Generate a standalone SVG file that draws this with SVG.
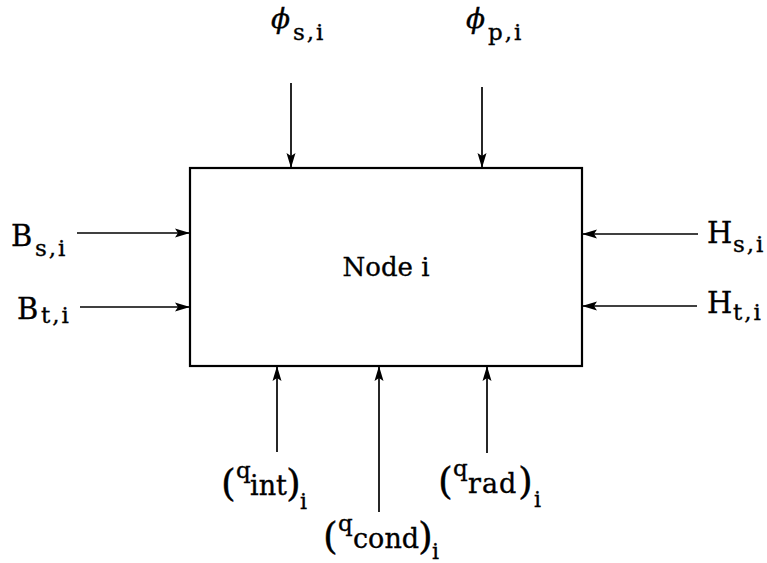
<svg xmlns="http://www.w3.org/2000/svg" width="767" height="563" viewBox="0 0 767 563">
<style>
text{font-family:"DejaVu Serif","Liberation Serif",serif;fill:#000;stroke:#000;stroke-width:0.35}
.m{font-size:29px}
.s{font-size:23px;letter-spacing:2px}
.ph{font-size:28px;font-style:italic}
.par{font-size:38px}
.q{font-size:23px}
.sb{font-size:27px}
.i{font-size:22px}
.conn line{stroke:#000;stroke-width:1.7;marker-end:url(#ah)}
</style>
<defs>
<marker id="ah" markerUnits="userSpaceOnUse" markerWidth="16" markerHeight="12" viewBox="0 0 16 12" refX="15" refY="6" orient="auto">
<path d="M0,1.5 L15,6 L0,10.5 L3,6 Z" fill="#000"/>
</marker>
</defs>
<rect width="767" height="563" fill="#fff"/>
<g id="node-i">
<rect x="190" y="168" width="392" height="198" fill="none" stroke="#000" stroke-width="2.2"/>
<text x="386" y="276" text-anchor="middle" font-size="26">Node i</text>
</g>
<g class="conn" id="connectors">
<line x1="291" y1="83" x2="291" y2="168"/>
<line x1="482" y1="87" x2="482" y2="168"/>
<line x1="77" y1="233" x2="190" y2="233"/>
<line x1="80" y1="307" x2="190" y2="307"/>
<line x1="698" y1="234" x2="582" y2="234"/>
<line x1="697" y1="306" x2="582" y2="306"/>
<line x1="277" y1="452" x2="277" y2="366"/>
<line x1="379" y1="512" x2="379" y2="366"/>
<line x1="487" y1="453" x2="487" y2="366"/>
</g>
<g id="phi-s">
<text><tspan class="ph" x="271" y="28">ϕ</tspan><tspan class="s" x="293" y="40">s,i</tspan></text>
</g>
<g id="phi-p">
<text><tspan class="ph" x="466" y="28">ϕ</tspan><tspan class="s" x="488" y="40">p,i</tspan></text>
</g>
<g id="b-s">
<text><tspan class="m" x="11" y="246">B</tspan><tspan class="s" x="35" y="256">s,i</tspan></text>
</g>
<g id="b-t">
<text><tspan class="m" x="17" y="319">B</tspan><tspan class="s" x="41" y="323">t,i</tspan></text>
</g>
<g id="h-s">
<text><tspan class="m" x="707" y="243">H</tspan><tspan class="s" x="733" y="252">s,i</tspan></text>
</g>
<g id="h-t">
<text><tspan class="m" x="707" y="313">H</tspan><tspan class="s" x="733" y="320">t,i</tspan></text>
</g>
<g id="q-int">
<text><tspan class="par" x="221" y="496">(</tspan><tspan class="q" x="236" y="478">q</tspan><tspan class="sb" x="250" y="495">int</tspan><tspan class="par" x="286" y="496">)</tspan><tspan class="i" x="300" y="509">i</tspan></text>
</g>
<g id="q-cond">
<text><tspan class="par" x="323" y="549">(</tspan><tspan class="q" x="338" y="531">q</tspan><tspan class="sb" x="353" y="548">cond</tspan><tspan class="par" x="418" y="549">)</tspan><tspan class="i" x="432" y="559">i</tspan></text>
</g>
<g id="q-rad">
<text><tspan class="par" x="438" y="494">(</tspan><tspan class="q" x="453" y="476">q</tspan><tspan class="sb" x="468" y="493" letter-spacing="1">rad</tspan><tspan class="par" x="518" y="494">)</tspan><tspan class="i" x="534" y="507">i</tspan></text>
</g>
</svg>
